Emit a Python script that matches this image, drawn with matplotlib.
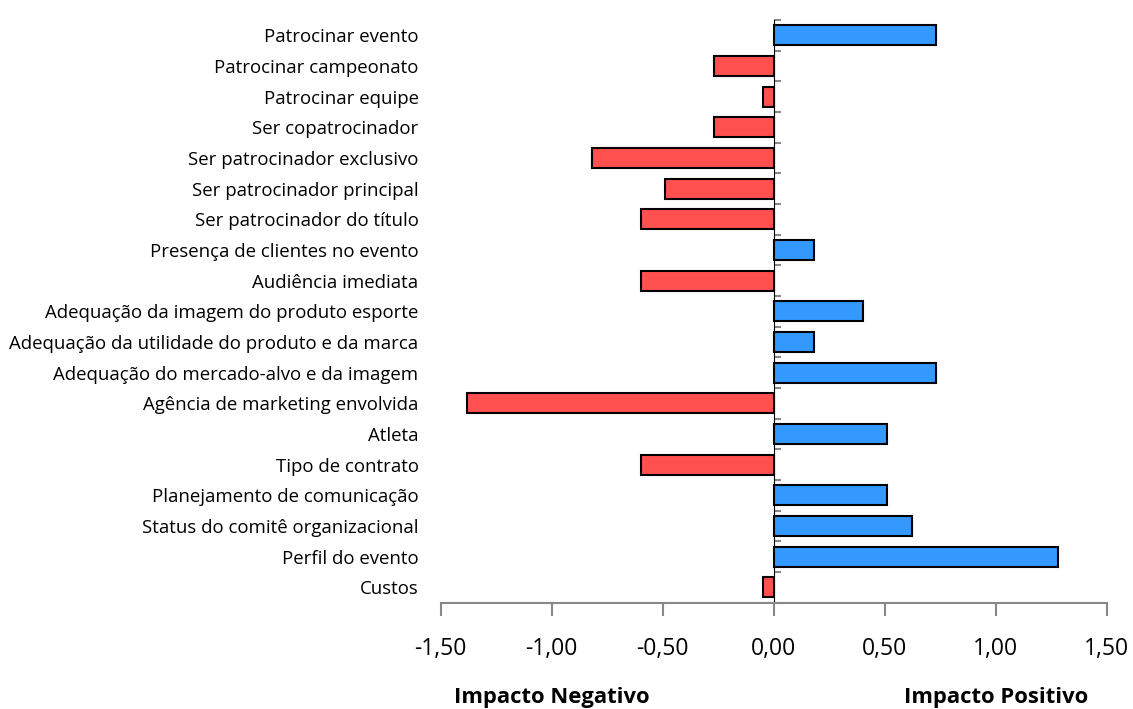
import matplotlib.pyplot as plt
import numpy as np

# Fatores de patrocínio e impacto médio (de baixo para cima)
fatores = [
    "Custos",
    "Perfil do evento",
    "Status do comitê organizacional",
    "Planejamento de comunicação",
    "Tipo de contrato",
    "Atleta",
    "Agência de marketing envolvida",
    "Adequação do mercado-alvo e da imagem",
    "Adequação da utilidade do produto e da marca",
    "Adequação da imagem do produto esporte",
    "Audiência imediata",
    "Presença de clientes no evento",
    "Ser patrocinador do título",
    "Ser patrocinador principal",
    "Ser patrocinador exclusivo",
    "Ser copatrocinador",
    "Patrocinar equipe",
    "Patrocinar campeonato",
    "Patrocinar evento",
]
impacto = [-0.05, 1.28, 0.62, 0.51, -0.60, 0.51, -1.38, 0.73, 0.18, 0.40,
           -0.60, 0.18, -0.60, -0.49, -0.82, -0.27, -0.05, -0.27, 0.73]
ticks_x = [-1.5, -1.0, -0.5, 0.0, 0.5, 1.0, 1.5]

plt.rcParams['font.family'] = ['Open Sans', 'DejaVu Sans']

fig = plt.figure(figsize=(11.33, 7.09), dpi=100)
ax = fig.add_axes([0.389, 0.150, 0.588, 0.822])

y = np.arange(len(fatores))
cores = ['#3399FF' if v > 0 else '#FF5050' for v in impacto]
ax.barh(y, impacto, height=0.65, color=cores, edgecolor='black', linewidth=1.5, zorder=2)

ax.set_xlim(-1.5, 1.5)
ax.set_ylim(-0.5, len(fatores) - 0.5)

# rótulos das categorias à esquerda
ax.set_yticks(y)
ax.set_yticklabels(fatores, fontsize=13.4)
ax.tick_params(axis='y', length=0, pad=16)

# eixo x
ax.set_xticks(ticks_x)
ax.set_xticklabels([f"{v:.2f}".replace('.', ',') for v in ticks_x], fontsize=16.5)
ax.tick_params(axis='x', direction='out', length=9, width=1.5, color='#888888', pad=16)

for s in ['top', 'right', 'left']:
    ax.spines[s].set_visible(False)
ax.spines['bottom'].set_color('#888888')
ax.spines['bottom'].set_linewidth(1.5)

# linha do zero com marcas entre as categorias
eixo0 = ax.secondary_yaxis(0.5)
eixo0.set_yticks(np.arange(-0.5, len(fatores), 1.0))
eixo0.set_yticklabels([])
eixo0.tick_params(axis='y', direction='out', length=5, width=1.5, color='#888888')
eixo0.spines['left'].set_color('#888888')
eixo0.spines['left'].set_linewidth(1.5)

fig.text(552 / 1133, 1 - 698 / 709, "Impacto Negativo", ha='center', va='center',
         fontsize=15.8, fontweight='bold')
fig.text(996 / 1133, 1 - 698 / 709, "Impacto Positivo", ha='center', va='center',
         fontsize=15.8, fontweight='bold')

fig.savefig("out.png", dpi=100)
